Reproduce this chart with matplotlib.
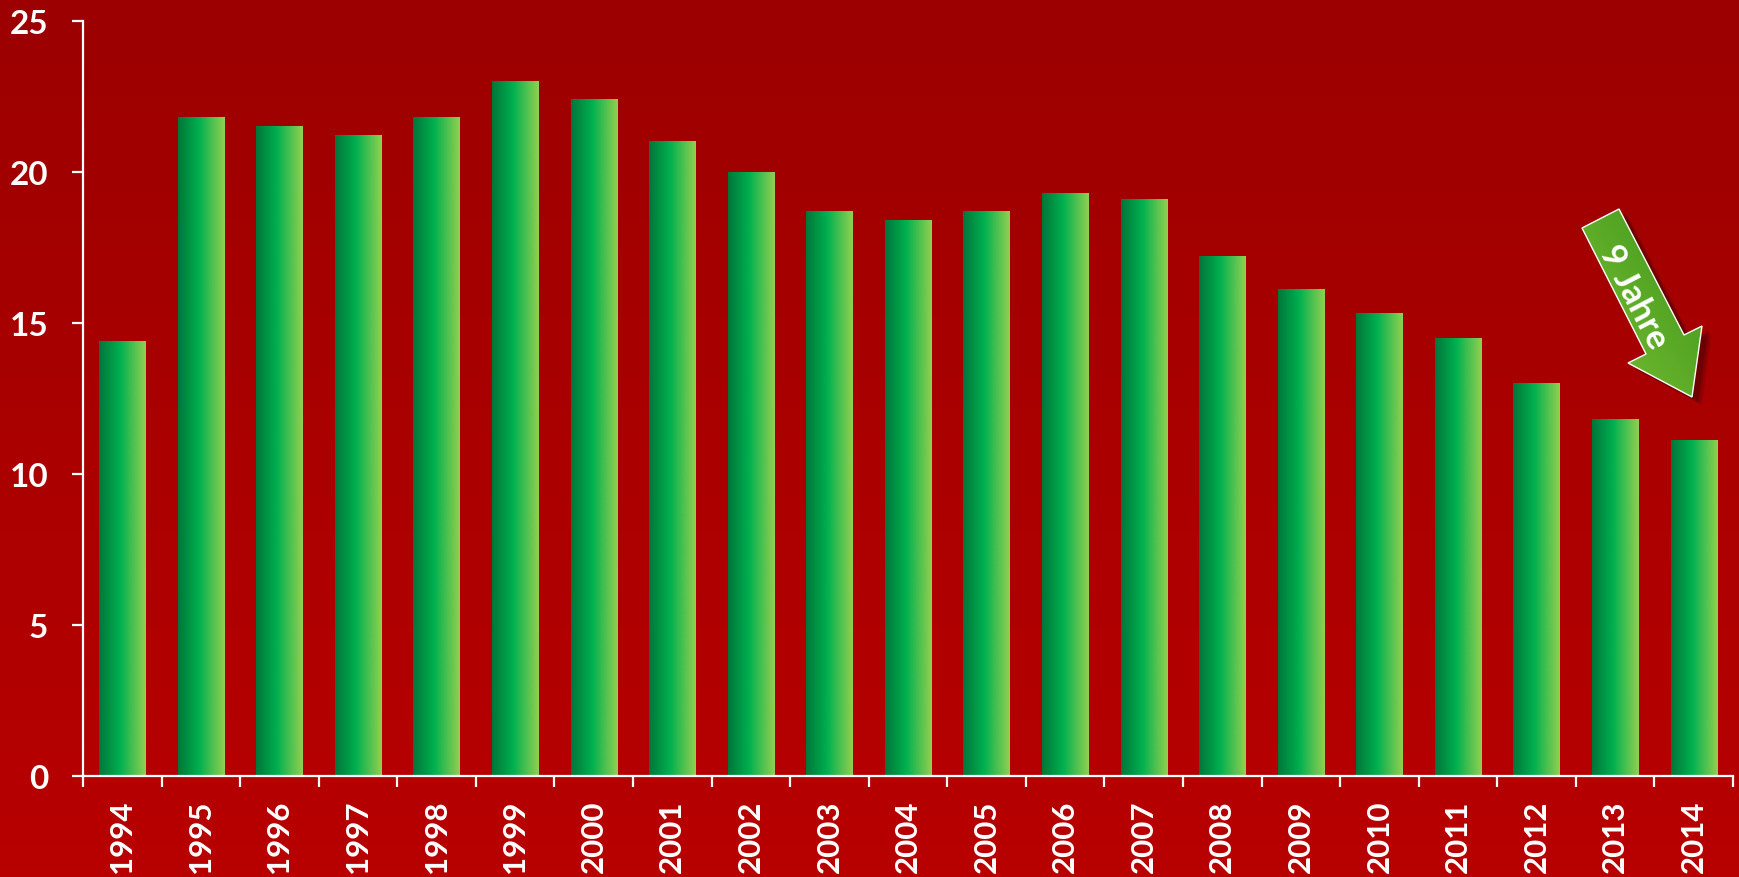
import numpy as np
import matplotlib
matplotlib.use("Agg")
import matplotlib.pyplot as plt
from matplotlib.colors import LinearSegmentedColormap
from matplotlib.patches import Polygon
from matplotlib.transforms import IdentityTransform

plt.rcParams['font.family'] = ['Lato', 'DejaVu Sans']

years = ['1994', '1995', '1996', '1997', '1998', '1999', '2000', '2001', '2002', '2003', '2004',
         '2005', '2006', '2007', '2008', '2009', '2010', '2011', '2012', '2013', '2014']
values = [14.4, 21.8, 21.5, 21.2, 21.8, 23.0, 22.4, 21.0, 20.0, 18.7, 18.4,
          18.7, 19.3, 19.1, 17.2, 16.1, 15.3, 14.5, 13.0, 11.8, 11.1]
yticks = [0, 5, 10, 15, 20, 25]

W, H = 1739, 878
fig = plt.figure(figsize=(W / 100, H / 100), dpi=100)

# red background gradient (dark at top, brighter at bottom)
bg = fig.add_axes([0, 0, 1, 1], zorder=0)
bg_cmap = LinearSegmentedColormap.from_list('bg', ['#B80000', '#9C0000'])
bg.imshow(np.linspace(0, 1, 256).reshape(-1, 1), cmap=bg_cmap, aspect='auto',
          extent=[0, 1, 0, 1], origin='lower')
bg.axis('off')

ax = fig.add_axes([83 / W, 101 / H, 1650 / W, 755 / H], zorder=1)
ax.set_facecolor('none')

bar_cmap = LinearSegmentedColormap.from_list(
    'bars', [(0, '#00763A'), (0.45, '#00B050'), (1, '#92D050')])
grad = np.linspace(0, 1, 128).reshape(1, -1)

x = np.arange(len(years))
bars = ax.bar(x, values, width=0.59, color='none', edgecolor='none')
for b in bars:
    x0, y0 = b.get_x(), b.get_y()
    ax.imshow(grad, cmap=bar_cmap, aspect='auto', zorder=2,
              extent=[x0, x0 + b.get_width(), y0, y0 + b.get_height()])

ax.set_xlim(-0.5, len(years) - 0.5)
ax.set_ylim(0, 25)

# axes styling
for side in ['top', 'right']:
    ax.spines[side].set_visible(False)
for side in ['left', 'bottom']:
    ax.spines[side].set_color('white')
    ax.spines[side].set_linewidth(1.6)

ax.set_yticks(yticks)
ax.set_yticklabels([str(t) for t in yticks], fontsize=24, fontweight='bold', color='white')
ax.tick_params(axis='y', colors='white', length=8, width=1.6, pad=17)

ax.set_xticks(x)
ax.set_xticklabels(years, rotation=90, fontsize=22.5, fontweight='bold', color='white', va='top')
ax.tick_params(axis='x', which='major', length=0, pad=17)
ax.set_xticks(np.arange(len(years) + 1) - 0.5, minor=True)
ax.tick_params(axis='x', which='minor', colors='white', length=8, width=1.6)

# "9 Jahre" arrow (pixel coordinates, y measured from top)
arrow_pts = [(1582, 229), (1619, 210), (1684, 336), (1702, 327),
             (1692, 398), (1628, 364), (1646, 355)]
pts = np.array([(px, H - py) for px, py in arrow_pts], dtype=float)

# soft shadow: a few offset, faded copies
for k, a in [(10, 0.15), (8, 0.2), (6, 0.3)]:
    fig.add_artist(Polygon(pts + [k, -k * 0.8], closed=True, transform=IdentityTransform(),
                           facecolor='#3A0000', edgecolor='none', alpha=a, zorder=3))

arrow_cmap = LinearSegmentedColormap.from_list('arr', ['#7DC034', '#3B951A'])
gx, gy = np.meshgrid(np.linspace(0, 1, 64), np.linspace(0, 1, 64))
ag = fig.add_axes([0, 0, 1, 1], zorder=4)
ag.set_xlim(0, W)
ag.set_ylim(0, H)
ag.axis('off')
ag.patch.set_alpha(0)
img = ag.imshow((gx + gy) / 2, cmap=arrow_cmap, aspect='auto', origin='lower',
                extent=[pts[:, 0].min(), pts[:, 0].max(), pts[:, 1].min(), pts[:, 1].max()])
clip = Polygon(pts, closed=True, transform=ag.transData)
img.set_clip_path(clip)
ag.add_patch(Polygon(pts, closed=True, facecolor='none', edgecolor='white', linewidth=1.0))

ag.text(1634, H - 297, '9 Jahre', rotation=-62.5, rotation_mode='anchor',
        ha='center', va='center', fontsize=25, fontweight='bold', color='white')

fig.savefig('out.png', dpi=100)
